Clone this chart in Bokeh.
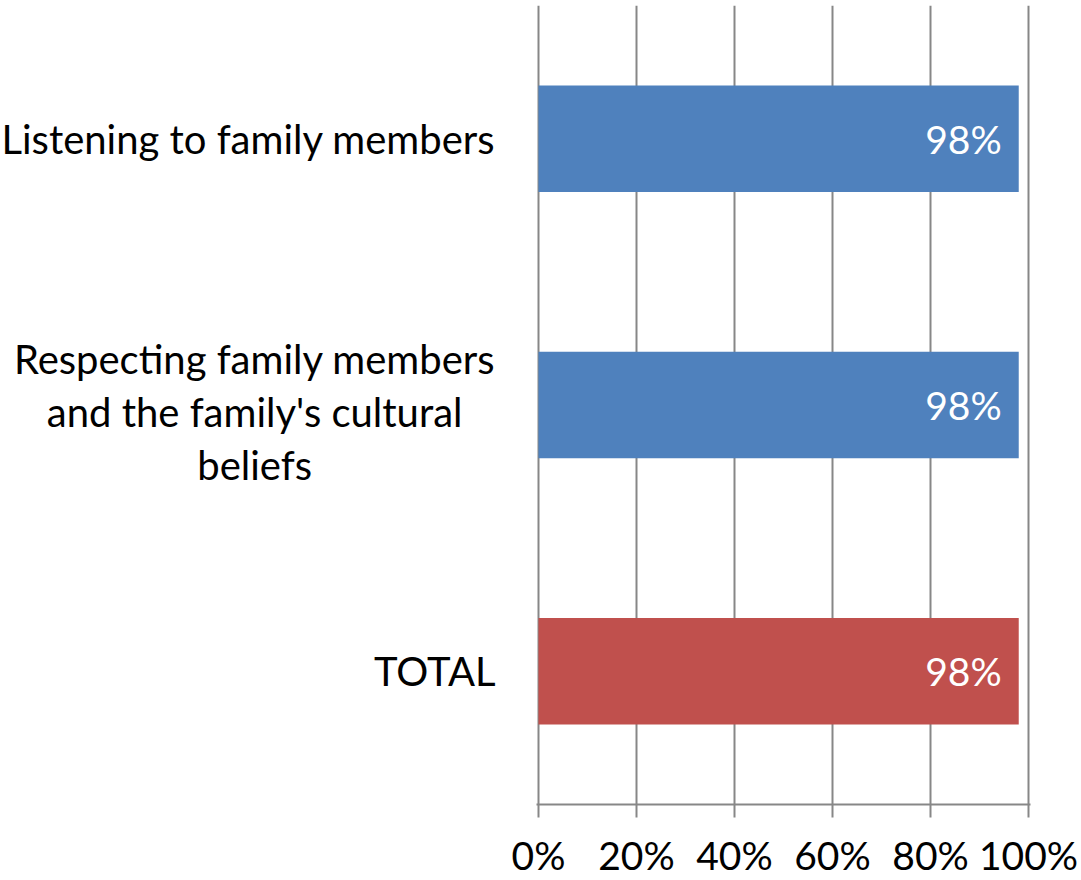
from bokeh.plotting import figure
from bokeh.models import Range1d, FixedTicker, ColumnDataSource, Label
from bokeh.layouts import row
from bokeh.core.properties import value
from bokeh.embed import file_html
from bokeh.resources import INLINE

categories = ["Listening to family members",
              "Respecting family members\nand the family's cultural\nbeliefs",
              "TOTAL"]
values = [98, 98, 98]
bar_colors = ["#4F81BD", "#4F81BD", "#C0504D"]
value_labels = ["98%", "98%", "98%"]
tick_values = [0, 20, 40, 60, 80, 100]
tick_labels = ["0%", "20%", "40%", "60%", "80%", "100%"]

FONT = "Lato"
FS = "39px"
CAT_FS = "40px"
n = len(categories)
ypos = [n - 1 - i for i in range(n)]

LEFT = 536
PAD = 40
W, H = 1078, 880
TOP, BOTTOM = 5, H - 805
yr = Range1d(-0.5, n - 0.5)

# left panel holding the category labels
lp = figure(width=LEFT - PAD, height=H, output_backend="svg", toolbar_location=None,
            x_range=Range1d(0, 1), y_range=yr,
            min_border_left=0, min_border_right=0, min_border_top=TOP,
            min_border_bottom=BOTTOM)
lp.axis.visible = False
lp.grid.visible = False
lp.outline_line_color = None
lp.border_fill_color = "white"
lp.background_fill_color = "white"
for cat, y in zip(categories, ypos):
    lp.add_layout(Label(x=LEFT - 41, x_units="screen", y=y, text=cat, anchor="center_right",
                        y_offset=-7 if "\n" in cat else 0,
                        text_align="center", text_baseline="middle",
                        text_font=FONT, text_font_size=CAT_FS, text_color="black",
                        text_line_height=1.1))

p = figure(width=W - LEFT + PAD, height=H, output_backend="svg", toolbar_location=None,
           x_range=Range1d(-0.4, 100.4), y_range=yr,
           min_border_left=PAD, min_border_right=W - 1030, min_border_top=TOP,
           min_border_bottom=BOTTOM)
p.outline_line_color = None
p.background_fill_color = "white"
p.border_fill_color = "white"

src = ColumnDataSource(dict(y=ypos, v=values, c=bar_colors, t=value_labels))
p.hbar(y="y", right="v", left=0, height=0.4, fill_color="c", line_color=None, source=src)
p.text(x="v", y="y", text="t", source=src, text_align="right", text_baseline="middle",
       x_offset=-17, text_color="white", text_font=value(FONT), text_font_size=FS)

p.ygrid.visible = False
p.yaxis.visible = False

p.xaxis.ticker = FixedTicker(ticks=tick_values)
p.xaxis.major_label_overrides = {t: l for t, l in zip(tick_values, tick_labels)}
p.xaxis.axis_line_color = "#878787"
p.xaxis.axis_line_width = 2
p.xaxis.major_tick_line_color = "#878787"
p.xaxis.major_tick_line_width = 2
p.xaxis.major_tick_out = 13
p.xaxis.major_tick_in = 0
p.xaxis.minor_tick_line_color = None
p.xaxis.major_label_text_font = FONT
p.xaxis.major_label_text_font_size = FS
p.xaxis.major_label_text_color = "black"
p.xaxis.major_label_standoff = 14
p.xgrid.ticker = FixedTicker(ticks=tick_values)
p.xgrid.grid_line_color = "#878787"
p.xgrid.grid_line_width = 2

layout = row(lp, p, spacing=0)
open("out.html", "w").write(file_html(layout, INLINE))
